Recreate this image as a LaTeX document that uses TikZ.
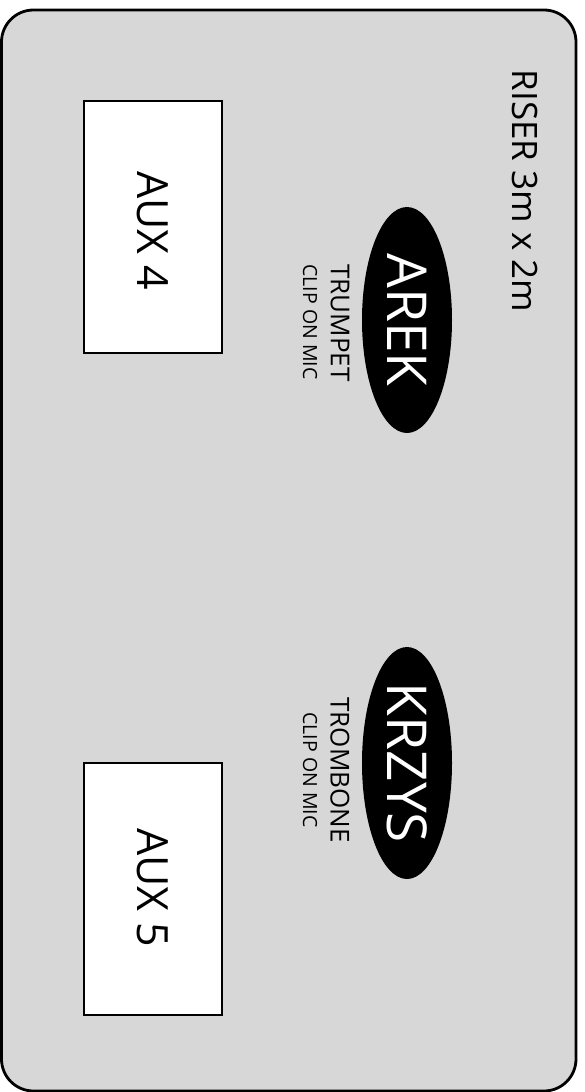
\documentclass[tikz,border=0pt]{standalone}
\usepackage{fontspec}
\setmainfont{Open Sans}
\usetikzlibrary{shapes.geometric}
\definecolor{riser}{HTML}{D7D7D7}
\tikzset{
  auxbox/.style={draw=black, line width=2pt, fill=white, minimum width=138pt, minimum height=252pt, inner sep=0pt},
  musician/.style={ellipse, fill=black, inner sep=0pt, minimum width=90pt, minimum height=226pt},
  rotlabel/.style={rotate=-90, inner sep=0pt, font=\fontsize{#1}{#1}\selectfont},
}
\begin{document}
\begin{tikzpicture}[x=1pt,y=-1pt]
\useasboundingbox (0,0) rectangle (585,1092);
\draw[fill=riser, line width=2.8pt, rounded corners=32pt] (1.5,10) rectangle (576,1091);
\node[auxbox] (aux4) at (153,227) {};
\node[rotlabel=43] at (153,231) {AUX 4};
\node[auxbox] (aux5) at (153,889) {};
\node[rotlabel=43] at (153,888) {AUX 5};
\node[musician] (arek) at (407,320) {};
\node[rotlabel=55, text=white] at (arek.center) {AREK};
\node[musician, minimum height=232pt] (krzys) at (407,763) {};
\node[rotlabel=55, text=white] at (krzys.center) {KRZYS};
\node[rotlabel=26] (trumpet) at (340,323) {TRUMPET};
\node[rotlabel=19.5] (clip1) at (310,322) {CLIP ON MIC};
\node[rotlabel=26] (trombone) at (340,770) {TROMBONE};
\node[rotlabel=19.5] (clip2) at (310,770) {CLIP ON MIC};
\node[rotlabel=35] (riser) at (525,191) {RISER 3m x 2m};
\end{tikzpicture}
\end{document}
